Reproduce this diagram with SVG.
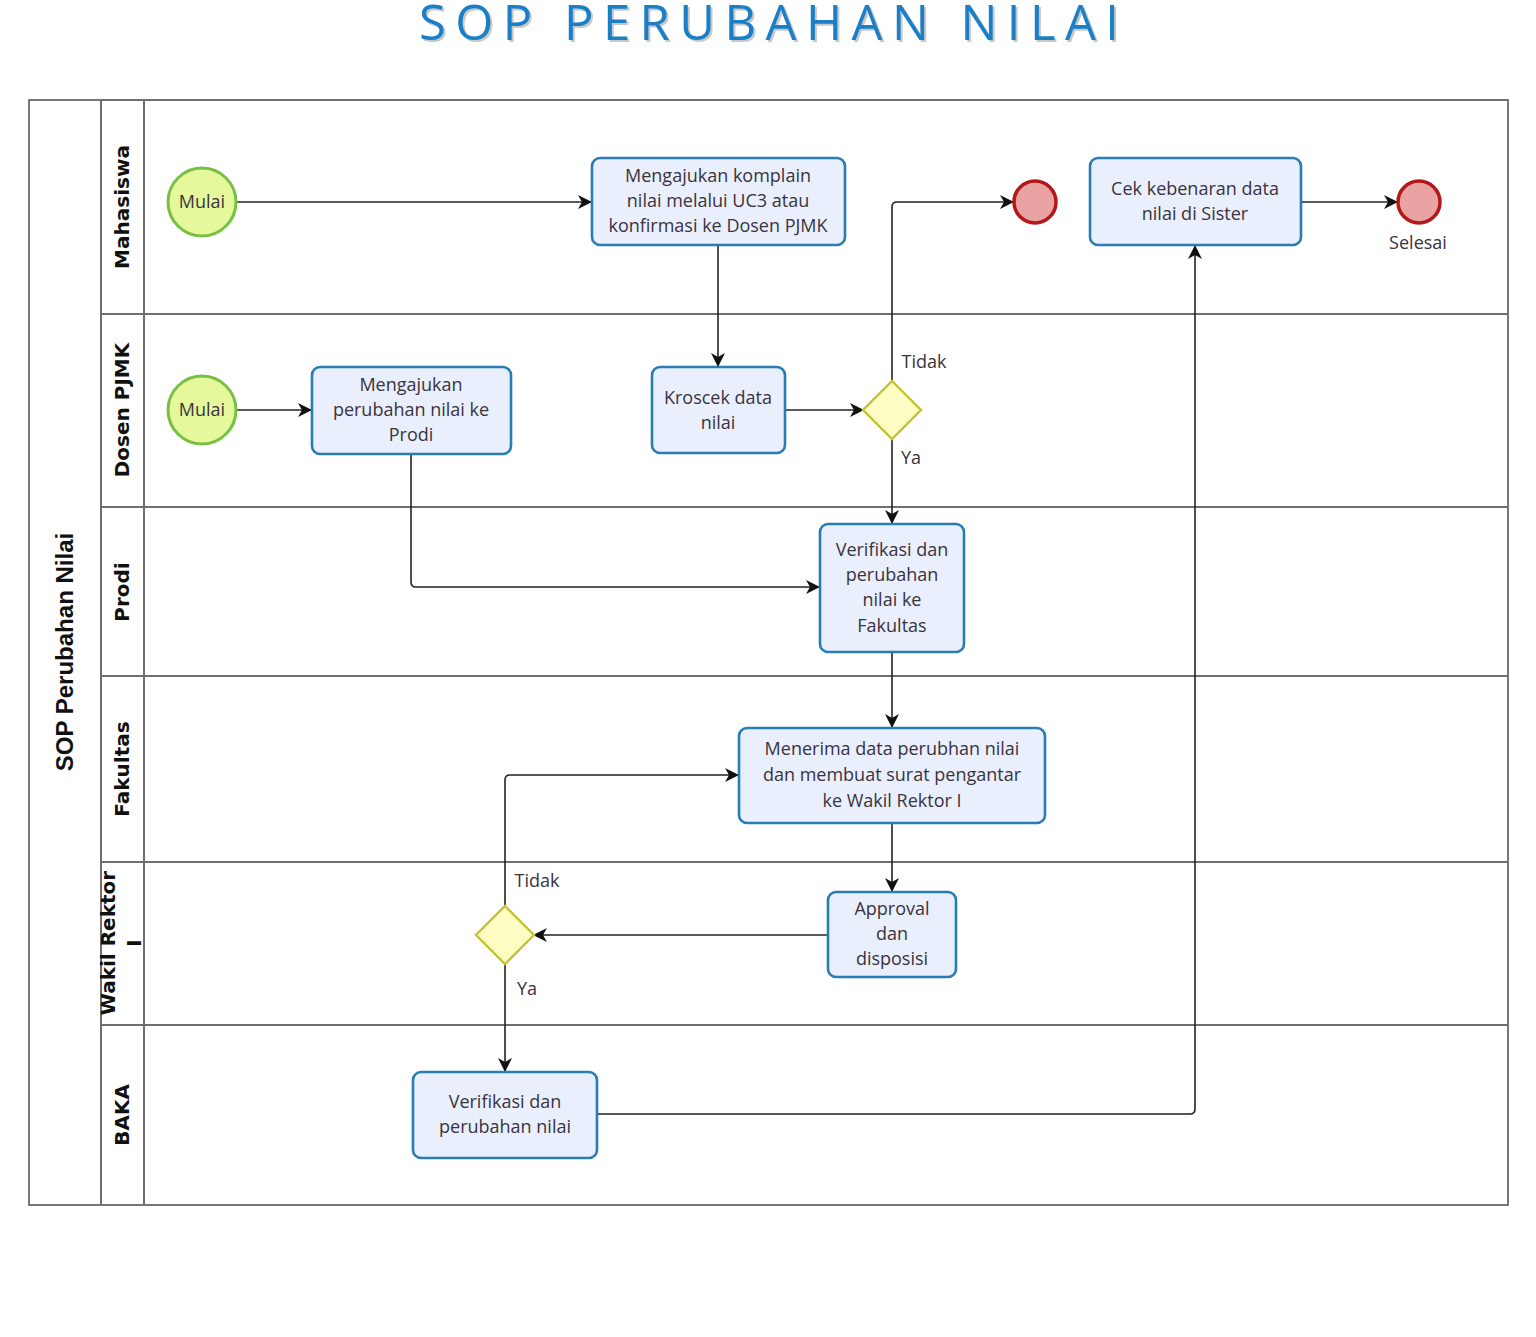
<svg xmlns="http://www.w3.org/2000/svg" width="1536" height="1337" viewBox="0 0 1536 1337">
<style>
.lane{fill:none;stroke:#6e6e6e;stroke-width:2}
.pool{fill:#fff;stroke:#555;stroke-width:1.6}
.task{fill:#e9effc;stroke:#2a7db3;stroke-width:2.6}
.start{fill:#e5f89c;stroke:#77c043;stroke-width:3}
.end{fill:#e9a3a3;stroke:#b3181b;stroke-width:3.5}
.gw{fill:#fdfcc2;stroke:#c3c236;stroke-width:2.4}
.t{font-family:"Open Sans","DejaVu Sans",sans-serif;font-size:18px;fill:#3a3340;text-anchor:middle}
.lbl{font-family:"DejaVu Sans",sans-serif;font-size:20px;font-weight:bold;fill:#111;text-anchor:middle}
.pl{font-family:"Liberation Sans",Arial,sans-serif;font-size:24px;font-weight:bold;fill:#111;text-anchor:middle}
.c{fill:none;stroke:#222;stroke-width:1.6}
</style>
<defs>
<marker id="ar" viewBox="0 0 14 14" refX="13" refY="7" markerWidth="14" markerHeight="14" markerUnits="userSpaceOnUse" orient="auto">
<path d="M0,0 L14,7 L0,14 L4,7 z" fill="#111"/>
</marker>
</defs>
<rect width="1536" height="1337" fill="#fff"/>
<g id="title">
<text x="771" y="42" font-family="Open Sans,DejaVu Sans,sans-serif" font-size="49" fill="#c8c8c8" text-anchor="middle" textLength="700" lengthAdjust="spacing">SOP PERUBAHAN NILAI</text>
<text x="769" y="40" font-family="Open Sans,DejaVu Sans,sans-serif" font-size="49" fill="#1a7fc6" text-anchor="middle" textLength="700" lengthAdjust="spacing">SOP PERUBAHAN NILAI</text>
</g>
<g id="pool">
<rect class="pool" x="29" y="100" width="1479" height="1105"/>
<line class="lane" x1="101" y1="100" x2="101" y2="1205"/>
<line class="lane" x1="144" y1="100" x2="144" y2="1205"/>
<line class="lane" x1="101" y1="100" x2="1508" y2="100"/>
<line class="lane" x1="101" y1="314" x2="1508" y2="314"/>
<line class="lane" x1="101" y1="507" x2="1508" y2="507"/>
<line class="lane" x1="101" y1="676" x2="1508" y2="676"/>
<line class="lane" x1="101" y1="862" x2="1508" y2="862"/>
<line class="lane" x1="101" y1="1025" x2="1508" y2="1025"/>
<text class="pl" transform="translate(73,652) rotate(-90)">SOP Perubahan Nilai</text>
<text class="lbl" transform="translate(129,207) rotate(-90)">Mahasiswa</text>
<text class="lbl" transform="translate(129,410) rotate(-90)">Dosen PJMK</text>
<text class="lbl" transform="translate(129,592) rotate(-90)">Prodi</text>
<text class="lbl" transform="translate(129,769) rotate(-90)">Fakultas</text>
<text class="lbl" transform="translate(115,943) rotate(-90)">Wakil Rektor</text>
<text class="lbl" transform="translate(141,943) rotate(-90)">I</text>
<text class="lbl" transform="translate(129,1115) rotate(-90)">BAKA</text>
</g>
<g id="connectors">
<path class="c" d="M236,202 L591,202" marker-end="url(#ar)"/>
<path class="c" d="M718,245 L718,366" marker-end="url(#ar)"/>
<path class="c" d="M236,410 L311,410" marker-end="url(#ar)"/>
<path class="c" d="M785,410 L863,410" marker-end="url(#ar)"/>
<path class="c" d="M892,381 L892,207 Q892,202 897,202 L1013,202" marker-end="url(#ar)"/>
<path class="c" d="M892,439 L892,523" marker-end="url(#ar)"/>
<path class="c" d="M411,454 L411,582 Q411,587 416,587 L819,587" marker-end="url(#ar)"/>
<path class="c" d="M892,652 L892,727" marker-end="url(#ar)"/>
<path class="c" d="M892,823 L892,891" marker-end="url(#ar)"/>
<path class="c" d="M828,935 L534,935" marker-end="url(#ar)"/>
<path class="c" d="M505,906 L505,780 Q505,775 510,775 L738,775" marker-end="url(#ar)"/>
<path class="c" d="M505,964 L505,1071" marker-end="url(#ar)"/>
<path class="c" d="M597,1114 L1190,1114 Q1195,1114 1195,1109 L1195,246" marker-end="url(#ar)"/>
<path class="c" d="M1301,202 L1397,202" marker-end="url(#ar)"/>
<text class="t" x="924" y="368">Tidak</text>
<text class="t" x="911" y="464">Ya</text>
<text class="t" x="537" y="887">Tidak</text>
<text class="t" x="527" y="995">Ya</text>
</g>
<g id="start1">
<circle class="start" cx="202" cy="202" r="34"/>
<text class="t" x="202" y="208">Mulai</text>
</g>
<g id="start2">
<circle class="start" cx="202" cy="410" r="34"/>
<text class="t" x="202" y="416">Mulai</text>
</g>
<g id="task-komplain">
<rect class="task" x="592" y="158" width="253" height="87" rx="8"/>
<text class="t" x="718" y="182">Mengajukan komplain</text>
<text class="t" x="718" y="207">nilai melalui UC3 atau</text>
<text class="t" x="718" y="232">konfirmasi ke Dosen PJMK</text>
</g>
<g id="end1">
<circle class="end" cx="1035" cy="202" r="21"/>
</g>
<g id="task-cek">
<rect class="task" x="1090" y="158" width="211" height="87" rx="8"/>
<text class="t" x="1195" y="195">Cek kebenaran data</text>
<text class="t" x="1195" y="220">nilai di Sister</text>
</g>
<g id="end-selesai">
<circle class="end" cx="1419" cy="202" r="21"/>
<text class="t" x="1418" y="249">Selesai</text>
</g>
<g id="task-mengajukan">
<rect class="task" x="312" y="367" width="199" height="87" rx="8"/>
<text class="t" x="411" y="391">Mengajukan</text>
<text class="t" x="411" y="416">perubahan nilai ke</text>
<text class="t" x="411" y="441">Prodi</text>
</g>
<g id="task-kroscek">
<rect class="task" x="652" y="367" width="133" height="86" rx="8"/>
<text class="t" x="718" y="404">Kroscek data</text>
<text class="t" x="718" y="429">nilai</text>
</g>
<g id="gateway1">
<path class="gw" d="M892,381 L921,410 L892,439 L863,410 z"/>
</g>
<g id="task-verifikasi-prodi">
<rect class="task" x="820" y="524" width="144" height="128" rx="8"/>
<text class="t" x="892" y="556">Verifikasi dan</text>
<text class="t" x="892" y="581">perubahan</text>
<text class="t" x="892" y="606">nilai ke</text>
<text class="t" x="892" y="632">Fakultas</text>
</g>
<g id="task-menerima">
<rect class="task" x="739" y="728" width="306" height="95" rx="8"/>
<text class="t" x="892" y="755">Menerima data perubhan nilai</text>
<text class="t" x="892" y="781">dan membuat surat pengantar</text>
<text class="t" x="892" y="807">ke Wakil Rektor I</text>
</g>
<g id="task-approval">
<rect class="task" x="828" y="892" width="128" height="85" rx="8"/>
<text class="t" x="892" y="915">Approval</text>
<text class="t" x="892" y="940">dan</text>
<text class="t" x="892" y="965">disposisi</text>
</g>
<g id="gateway2">
<path class="gw" d="M505,906 L534,935 L505,964 L476,935 z"/>
</g>
<g id="task-baka">
<rect class="task" x="413" y="1072" width="184" height="86" rx="8"/>
<text class="t" x="505" y="1108">Verifikasi dan</text>
<text class="t" x="505" y="1133">perubahan nilai</text>
</g>
</svg>
